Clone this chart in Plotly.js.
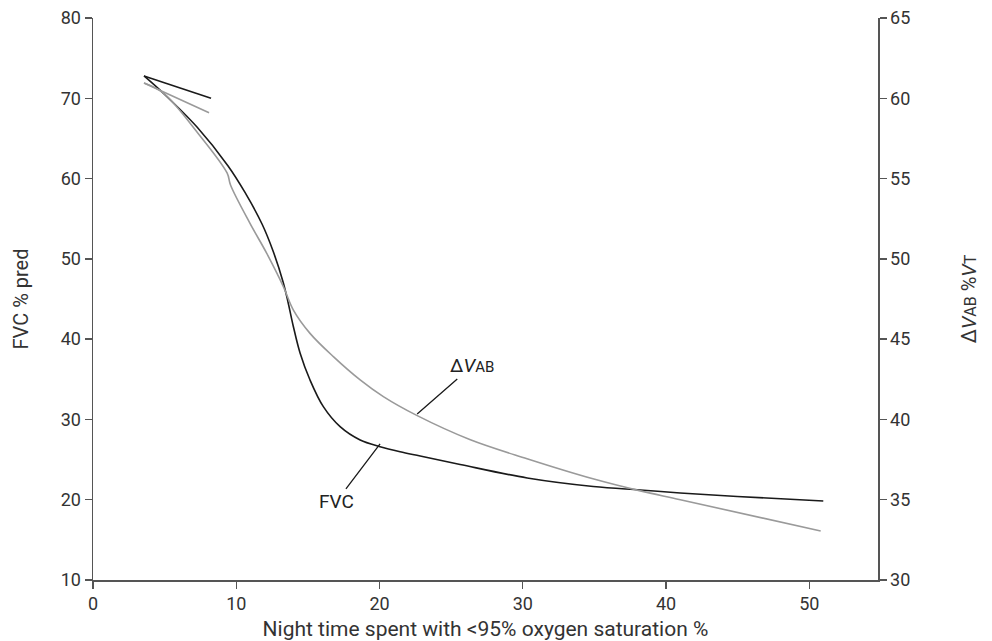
<!DOCTYPE html>
<html>
<head>
<meta charset="utf-8">
<script src="https://cdn.plot.ly/plotly-3.0.1.min.js"></script>
<style>html,body{margin:0;padding:0;background:#fff;}#chart{width:992px;height:641px;}</style>
</head>
<body>
<div id="chart"></div>
<script>
// FVC % pred (left axis)
const fvcX = [3.56, 4.89, 7.26, 9.43, 10.61, 11.8, 12.57, 13.27, 13.62, 13.99, 14.46, 15.15, 16.08, 17.25, 18.65, 20.04, 21.44, 22.84, 25.63, 30.31, 34.92, 38.2, 40.99, 44.97, 50.98];
const fvcY = [72.78, 70.66, 66.42, 61.57, 58.27, 54.34, 50.98, 47.12, 44.57, 41.55, 38.24, 34.91, 31.59, 29.1, 27.44, 26.61, 25.98, 25.45, 24.39, 22.71, 21.65, 21.21, 20.84, 20.4, 19.84];
// ΔVAB %VT (right axis)
const vabX = [3.56, 4.9, 7.26, 9.36, 9.6, 10.96, 12.13, 13.29, 13.99, 15.15, 16.78, 18.65, 20.27, 22.6, 26.3, 30.3, 34.9, 38.2, 41.0, 50.8];
const vabY = [60.95, 60.33, 57.9, 55.35, 54.6, 52.21, 50.34, 48.27, 46.81, 45.36, 43.91, 42.46, 41.42, 40.25, 38.75, 37.55, 36.3, 35.55, 35.0, 33.05];
// short straight segments at the start
const fvcSegX = [3.56, 8.24];
const fvcSegY = [72.78, 70.0];
const vabSegX = [3.56, 8.1];
const vabSegY = [60.95, 59.1];
// tick values
const xTicks = [0, 10, 20, 30, 40, 50];
const yTicks = [10, 20, 30, 40, 50, 60, 70, 80];
const y2Ticks = [30, 35, 40, 45, 50, 55, 60, 65];

const black = '#1a1a1a';
const gray = '#9a9a9a';
const axisCol = '#555555';
const font = 'Roboto, "Liberation Sans", sans-serif';
const txtCol = '#333333';

const traces = [
  {x: fvcX, y: fvcY, type: 'scatter', mode: 'lines', line: {color: black, width: 1.6, shape: 'spline', smoothing: 1}, yaxis: 'y', hoverinfo: 'skip'},
  {x: vabX, y: vabY, type: 'scatter', mode: 'lines', line: {color: gray, width: 1.6, shape: 'spline', smoothing: 1}, yaxis: 'y2', hoverinfo: 'skip'},
  {x: fvcSegX, y: fvcSegY, type: 'scatter', mode: 'lines', line: {color: black, width: 1.6}, yaxis: 'y', hoverinfo: 'skip'},
  {x: vabSegX, y: vabSegY, type: 'scatter', mode: 'lines', line: {color: gray, width: 1.6}, yaxis: 'y2', hoverinfo: 'skip'}
];

const axisCommon = {
  showgrid: false, zeroline: false, showline: true, linecolor: axisCol, linewidth: 1.5,
  ticks: 'outside', ticklen: 7, tickwidth: 1.3, tickcolor: axisCol,
  tickfont: {family: font, size: 18, color: txtCol}
};
const titleFont = {family: font, size: 20, color: txtCol};

const layout = {
  width: 992, height: 641,
  margin: {l: 93, r: 114, t: 18, b: 61},
  paper_bgcolor: '#fff', plot_bgcolor: '#fff',
  showlegend: false,
  font: {family: font, color: txtCol},
  xaxis: Object.assign({}, axisCommon, {
    range: [0, 54.8], tickvals: xTicks, ticktext: xTicks.map(String),
    title: {text: 'Night time spent with <95% oxygen saturation %', font: {family: font, size: 21, color: txtCol}, standoff: 8}
  }),
  yaxis: Object.assign({}, axisCommon, {
    range: [10, 80], tickvals: yTicks, ticktext: yTicks.map(String),
    title: {text: 'FVC % pred', font: titleFont, standoff: 26}
  }),
  yaxis2: Object.assign({}, axisCommon, {
    range: [30, 65], tickvals: y2Ticks, ticktext: y2Ticks.map(String),
    overlaying: 'y', side: 'right', anchor: 'x',
    title: {text: 'Δ<i>V</i><span style="font-size:16px">AB</span> %<i>V</i><span style="font-size:16px">T</span>', font: titleFont, standoff: 52}
  }),
  annotations: [
    {x: 22.63, y: 40.34, xref: 'x', yref: 'y2', text: 'Δ<i>V</i><span style="font-size:15px">AB</span>',
     showarrow: true, arrowhead: 0, arrowwidth: 1.3, arrowcolor: black, ax: 55, ay: -48, standoff: 0,
     font: {family: font, size: 19, color: '#222'}},
    {x: 20.04, y: 26.95, xref: 'x', yref: 'y', text: 'FVC',
     showarrow: true, arrowhead: 0, arrowwidth: 1.3, arrowcolor: black, ax: -44, ay: 58, standoff: 0,
     font: {family: font, size: 19, color: '#222'}}
  ]
};

Plotly.newPlot('chart', traces, layout, {displayModeBar: false, staticPlot: true});
</script>
</body>
</html>
